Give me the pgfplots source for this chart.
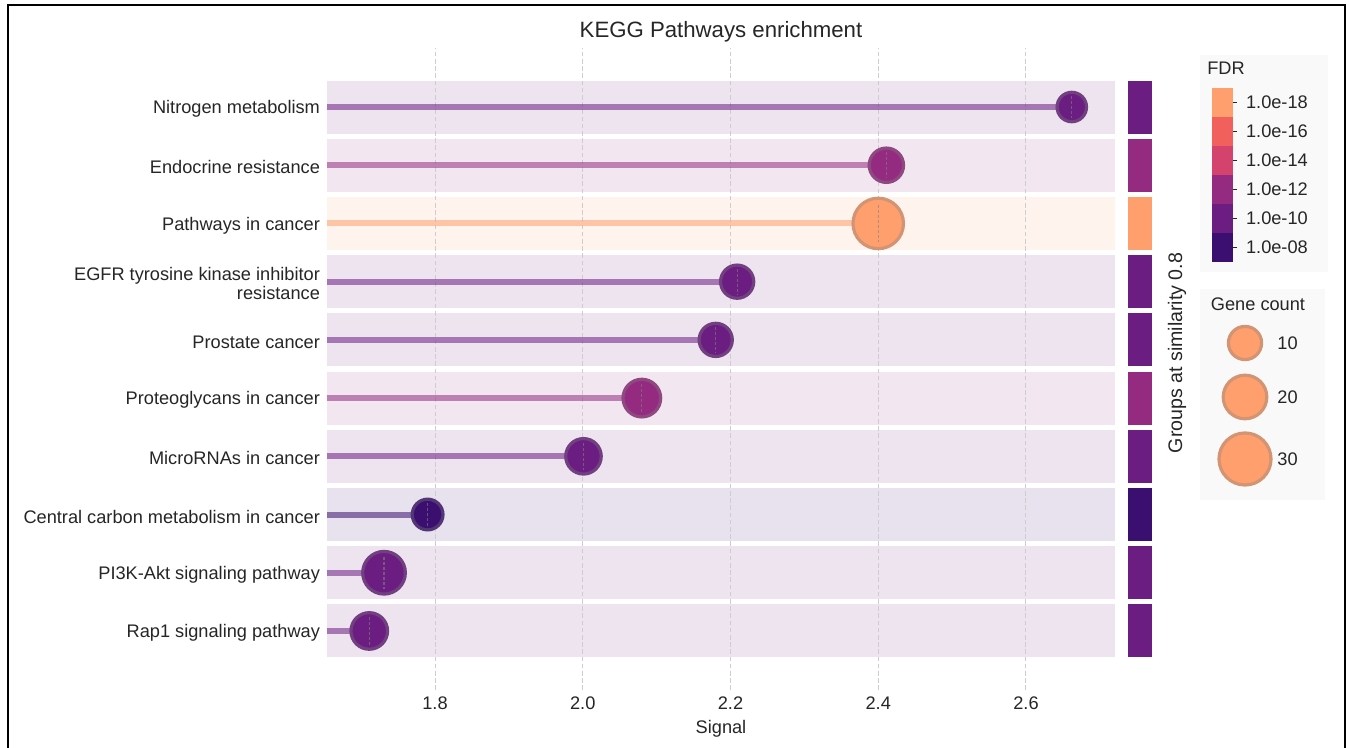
\documentclass[border=0pt]{standalone}
\usepackage{fontspec}
\setmainfont{Liberation Sans}
\usepackage{pgfplots}
\pgfplotsset{compat=1.18}

\definecolor{cA}{RGB}{59,15,112}   % 1e-08
\definecolor{cB}{RGB}{107,29,129}  % 1e-10
\definecolor{cC}{RGB}{148,43,128}  % 1e-12
\definecolor{cD}{RGB}{211,67,110}  % 1e-14
\definecolor{cE}{RGB}{241,96,93}   % 1e-16
\definecolor{cF}{RGB}{254,159,109} % 1e-18
\definecolor{txt}{RGB}{38,38,38}
\definecolor{gridc}{RGB}{205,205,205}
\definecolor{boxbg}{RGB}{249,249,249}

\newcommand{\fs}{\fontsize{9.1}{9.6}\selectfont}

% background band of one row: y, colour
\newcommand{\band}[2]{%
  \addplot[xbar, bar shift=0pt, bar width=0.91, fill=#2!12!white, draw=none] coordinates {(2.7205,#1)};}
% one lollipop: y, signal, gene count, colour
\newcommand{\lolli}[4]{%
  \addplot[#4, opacity=0.55, line width=3pt] coordinates {(1.60,#1) (#2,#1)};
  \addplot[only marks, mark=*, mark size={0.5*sqrt(115+21.6*#3)*1pt-0.8pt},
           mark options={fill=#4, draw=#4!65!gray, line width=1.6pt}] coordinates {(#2,#1)};
  \addplot[only marks, mark=|, mark size={0.35*sqrt(115+21.6*#3)*1pt},
           mark options={draw=gray, draw opacity=0.6, line width=0.55pt, dash pattern=on 1.5pt off 1pt}] coordinates {(#2,#1)};}
\newcommand{\gline}[1]{%
  \addplot[gridc, line width=0.5pt, dash pattern=on 2.3pt off 1.3pt] coordinates {(#1,-1.014) (#1,10.014)};}

\begin{document}
\begin{tikzpicture}
\useasboundingbox (0,0) rectangle (674.5pt,374pt);
\fill[white] (0,0) rectangle (674.5pt,374pt);
\draw[black, line width=1.1pt] (4pt,0) -- (4pt,371.5pt) -- (672.5pt,371.5pt) -- (672.5pt,0);

% ---------------- main lollipop axis ----------------
\begin{axis}[
  at={(163.5pt,29pt)}, anchor=south west,
  scale only axis, width=394pt, height=321pt,
  xmin=1.6538, xmax=2.7205, ymin=-1.014, ymax=10.014,
  axis line style={draw=none}, major tick length=0pt,
  xtick={1.8,2.0,2.2,2.4,2.6},
  xticklabels={1.8,2.0,2.2,2.4,2.6},
  ytick={0,1,2,3,4,5,6,7,8,9},
  yticklabels={Rap1 signaling pathway,
               PI3K-Akt signaling pathway,
               Central carbon metabolism in cancer,
               MicroRNAs in cancer,
               Proteoglycans in cancer,
               Prostate cancer,
               {EGFR tyrosine kinase inhibitor\\resistance},
               Pathways in cancer,
               Endocrine resistance,
               Nitrogen metabolism},
  /pgf/number format/assume math mode=true,
  tick label style={font=\fs, text=txt},
  yticklabel style={align=right, yshift=-1pt},
  xlabel={Signal},
  xlabel style={font=\fs, text=txt, at={(axis description cs:0.5,0)}, anchor=center, yshift=-19.5pt},
  title={KEGG Pathways enrichment},
  title style={font=\fontsize{11.1}{12}\selectfont, text=txt, at={(axis description cs:0.5,1)}, anchor=center, yshift=2pt},
  clip=true,
]
\band{9}{cB}
\band{8}{cC}
\band{7}{cF}
\band{6}{cB}
\band{5}{cB}
\band{4}{cC}
\band{3}{cB}
\band{2}{cA}
\band{1}{cB}
\band{0}{cB}
\gline{1.8}
\gline{2.0}
\gline{2.2}
\gline{2.4}
\gline{2.6}
\lolli{9}{2.662}{7}{cB}
\lolli{8}{2.411}{11}{cC}
\lolli{7}{2.400}{28}{cF}
\lolli{6}{2.209}{10}{cB}
\lolli{5}{2.180}{10}{cB}
\lolli{4}{2.080}{14}{cC}
\lolli{3}{2.001}{12}{cB}
\lolli{2}{1.790}{8}{cA}
\lolli{1}{1.731}{19}{cB}
\lolli{0}{1.711}{13}{cB}
\end{axis}

% ---------------- group strip ----------------
\begin{axis}[
  at={(564pt,29pt)}, anchor=south west,
  scale only axis, width=12pt, height=321pt,
  xmin=0, xmax=1, ymin=-1.014, ymax=10.014, hide axis,
]
\addplot[xbar, bar shift=0pt, bar width=0.91, fill=cB, draw=none] coordinates {(1,9)};
\addplot[xbar, bar shift=0pt, bar width=0.91, fill=cC, draw=none] coordinates {(1,8)};
\addplot[xbar, bar shift=0pt, bar width=0.91, fill=cF, draw=none] coordinates {(1,7)};
\addplot[xbar, bar shift=0pt, bar width=0.91, fill=cB, draw=none] coordinates {(1,6)};
\addplot[xbar, bar shift=0pt, bar width=0.91, fill=cB, draw=none] coordinates {(1,5)};
\addplot[xbar, bar shift=0pt, bar width=0.91, fill=cC, draw=none] coordinates {(1,4)};
\addplot[xbar, bar shift=0pt, bar width=0.91, fill=cB, draw=none] coordinates {(1,3)};
\addplot[xbar, bar shift=0pt, bar width=0.91, fill=cA, draw=none] coordinates {(1,2)};
\addplot[xbar, bar shift=0pt, bar width=0.91, fill=cB, draw=none] coordinates {(1,1)};
\addplot[xbar, bar shift=0pt, bar width=0.91, fill=cB, draw=none] coordinates {(1,0)};
\end{axis}
\node[rotate=90, font=\fontsize{9.8}{11}\selectfont, text=txt] at (588.5pt,197.5pt) {Groups at similarity 0.8};

% ---------------- FDR colour legend ----------------
\fill[boxbg] (600pt,238pt) rectangle (664pt,346.5pt);
\node[font=\fs, text=txt] at (613pt,340pt) {FDR};
\begin{axis}[
  at={(606pt,243pt)}, anchor=south west,
  scale only axis, width=10.5pt, height=87pt,
  xmin=0, xmax=1, ymin=0, ymax=6,
  axis line style={draw=none}, xtick=\empty,
  ytick={0.5,1.5,2.5,3.5,4.5,5.5},
  yticklabels={1.0e-08,1.0e-10,1.0e-12,1.0e-14,1.0e-16,1.0e-18},
  ytick pos=right, yticklabel pos=right,
  tick align=outside, major tick length=2pt,
  ytick style={txt, line width=0.6pt},
  tick label style={font=\fs, text=txt},
  yticklabel style={xshift=1pt},
]
\addplot[xbar, bar shift=0pt, bar width=1, fill=cA, draw=none] coordinates {(1,0.5)};
\addplot[xbar, bar shift=0pt, bar width=1, fill=cB, draw=none] coordinates {(1,1.5)};
\addplot[xbar, bar shift=0pt, bar width=1, fill=cC, draw=none] coordinates {(1,2.5)};
\addplot[xbar, bar shift=0pt, bar width=1, fill=cD, draw=none] coordinates {(1,3.5)};
\addplot[xbar, bar shift=0pt, bar width=1, fill=cE, draw=none] coordinates {(1,4.5)};
\addplot[xbar, bar shift=0pt, bar width=1, fill=cF, draw=none] coordinates {(1,5.5)};
\end{axis}

% ---------------- gene count legend ----------------
\fill[boxbg] (600pt,124pt) rectangle (662.5pt,229.5pt);
\node[font=\fs, text=txt] at (629pt,222pt) {Gene count};
\begin{axis}[
  at={(600pt,124pt)}, anchor=south west,
  scale only axis, width=62.5pt, height=105.5pt,
  xmin=600, xmax=662.5, ymin=124, ymax=229.5, hide axis, clip=false,
]
\addplot[only marks, mark=*, mark size={0.5*sqrt(115+21.6*10)*1pt-0.8pt},
  mark options={fill=cF, draw=cF!65!gray, line width=1.6pt}] coordinates {(622.5,202.5)};
\addplot[only marks, mark=*, mark size={0.5*sqrt(115+21.6*20)*1pt-0.8pt},
  mark options={fill=cF, draw=cF!65!gray, line width=1.6pt}] coordinates {(622.5,175.5)};
\addplot[only marks, mark=*, mark size={0.5*sqrt(115+21.6*30)*1pt-0.8pt},
  mark options={fill=cF, draw=cF!65!gray, line width=1.6pt}] coordinates {(622.5,144.5)};
\node[font=\fs, text=txt, anchor=west, inner sep=0pt] at (axis cs:638.5,202.5) {10};
\node[font=\fs, text=txt, anchor=west, inner sep=0pt] at (axis cs:638.5,175.5) {20};
\node[font=\fs, text=txt, anchor=west, inner sep=0pt] at (axis cs:638.5,144.5) {30};
\end{axis}
\end{tikzpicture}
\end{document}
